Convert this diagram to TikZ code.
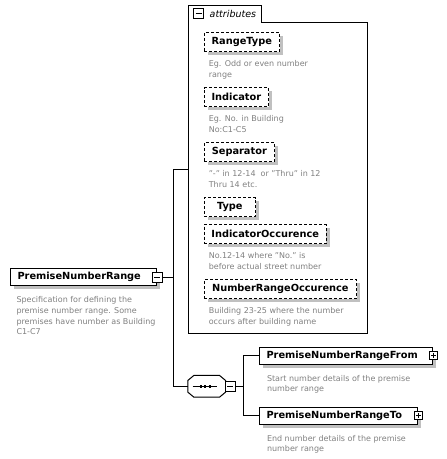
\documentclass[tikz,border=0pt]{standalone}
\usepackage{fontspec}
\setmainfont{DejaVu Sans}
\usetikzlibrary{positioning,shadows}
\definecolor{descgray}{RGB}{128,128,128}
\definecolor{shadowgray}{RGB}{192,192,192}
\begin{document}
\begin{tikzpicture}[x=1pt, y=-1pt, line width=1pt,
    boxshadow/.style={drop shadow={shadow xshift=3.5pt, shadow yshift=-3.5pt, fill=shadowgray, opacity=1}},
    attr/.style={draw, fill=white, boxshadow, anchor=west, dash pattern=on 3pt off 2pt, inner sep=0pt, minimum height=19pt, font=\fontsize{9.8}{12}\selectfont\bfseries},
    elem/.style={draw, fill=white, boxshadow, anchor=west, align=left, inner xsep=7pt, inner ysep=0pt, minimum height=17pt, font=\fontsize{9.8}{12}\selectfont\bfseries},
    desc/.style={align=left, inner sep=0pt, text=descgray, font=\fontsize{8}{10.7}\selectfont},
    minusbox/.style={draw, fill=white, minimum size=10pt, inner sep=0pt,
        path picture={\draw ([xshift=2pt]path picture bounding box.west) -- ([xshift=-2pt]path picture bounding box.east);}},
    plusbox/.style={draw, fill=white, minimum size=8pt, inner sep=0pt,
        path picture={\draw ([xshift=1.5pt]path picture bounding box.west) -- ([xshift=-1.5pt]path picture bounding box.east);
                      \draw ([yshift=-1.5pt]path picture bounding box.north) -- ([yshift=1.5pt]path picture bounding box.south);}}]
    \useasboundingbox (0,0) rectangle (447,459);

    % 1. attributes container with tab
    \node[minimum width=178pt, minimum height=327.5pt, inner sep=0pt] (attrs) at (278,169.25) {};
    \draw (attrs.south west) -- (attrs.north west) -- ([xshift=73pt]attrs.north west) -- ++(0,17.5) -| (attrs.south east) -- cycle;
    \node[minusbox] (tabm) at (198.7,13.9) {};
    \node[right=5pt of tabm, inner sep=0pt, font=\fontsize{9.5}{11}\selectfont\itshape] (tabl) {attributes};

    % 2. attributes
    \node[attr, minimum width=75.3pt] (rangetype) at (203.7,42) {RangeType};
    \node[desc, below right=8pt and 4.6pt of rangetype.south west] (rangetypedesc) {Eg. Odd or even number\\range};
    \node[attr, minimum width=64.3pt] (indicator) at (203.7,97.2) {Indicator};
    \node[desc, below right=8pt and 4.6pt of indicator.south west] (indicatordesc) {Eg. No. in Building\\No:C1-C5};
    \node[attr, minimum width=70.3pt] (separator) at (203.7,152.2) {Separator};
    \node[desc, below right=8pt and 4.6pt of separator.south west] (separatordesc) {"-" in 12-14\ \ or "Thru" in 12\\Thru 14 etc.};
    \node[attr, minimum width=51.3pt] (typ) at (203.7,207.2) {Type};
    \node[attr, minimum width=122pt] (indocc) at (203.7,234.2) {IndicatorOccurence};
    \node[desc, below right=8pt and 4.6pt of indocc.south west] (indoccdesc) {No.12-14 where "No." is\\before actual street number};
    \node[attr, minimum width=152.3pt] (nroocc) at (203.7,289.2) {NumberRangeOccurence};
    \node[desc, below right=8pt and 4.6pt of nroocc.south west] (nrooccdesc) {Building 23-25 where the number\\occurs after building name};

    % 3. main element
    \node[elem, text width=132pt] (premise) at (10,277.3) {PremiseNumberRange};
    \node[minusbox] (premisem) at (premise.east) {};
    \node[desc, below right=10pt and 6pt of premise.south west] (premisedesc) {Specification for defining the\\premise number range. Some\\premises have number as Building\\C1-C7};

    % 4. sequence compositor (chamfered box with shadow)
    \node[minimum width=36.7pt, minimum height=20.7pt, inner sep=0pt] (seq) at (206.7,386.3) {};
    \foreach \s/\c/\d in {3.5/shadowgray/none, 0/white/black}
        \filldraw[fill=\c, draw=\d, shift={(\s,\s)}] ([xshift=6pt]seq.north west) -- ([xshift=-6pt]seq.north east)
            -- ([yshift=-5pt]seq.north east) -- ([yshift=5pt]seq.south east) -- ([xshift=-6pt]seq.south east)
            -- ([xshift=6pt]seq.south west) -- ([yshift=5pt]seq.south west) -- ([yshift=-5pt]seq.north west) -- cycle;
    \draw ([xshift=-14pt]seq.center) -- ([xshift=10pt]seq.center);
    \foreach \dx in {-6,-1.5,3}
        \fill ([xshift=\dx pt]seq.center) +(-1.2,-1.2) rectangle +(1.2,1.2);
    \node[minusbox, anchor=west] (seqm) at ([xshift=-1pt]seq.east) {};

    % 5. child elements
    \node[elem, text width=159.3pt] (rangefrom) at (259,355.5) {PremiseNumberRangeFrom};
    \node[plusbox] (rangefromp) at (rangefrom.east) {};
    \node[desc, below right=10pt and 7.5pt of rangefrom.south west] (rangefromdesc) {Start number details of the premise\\number range};
    \node[elem, text width=144.3pt] (rangeto) at (259,415.5) {PremiseNumberRangeTo};
    \node[plusbox] (rangetop) at (rangeto.east) {};
    \node[desc, below right=10pt and 7.5pt of rangeto.south west] (rangetodesc) {End number details of the premise\\number range};

    % 6. connectors
    \coordinate (trunk) at (173.8,277.3);
    \draw (premisem.east) -- (trunk);
    \draw (attrs.west) -| (trunk);
    \draw (seq.west) -| (trunk);
    \draw (seqm.east) -- ++(8,0) coordinate (branch);
    \draw (rangefrom.west) -| (branch);
    \draw (rangeto.west) -| (branch);
\end{tikzpicture}
\end{document}
